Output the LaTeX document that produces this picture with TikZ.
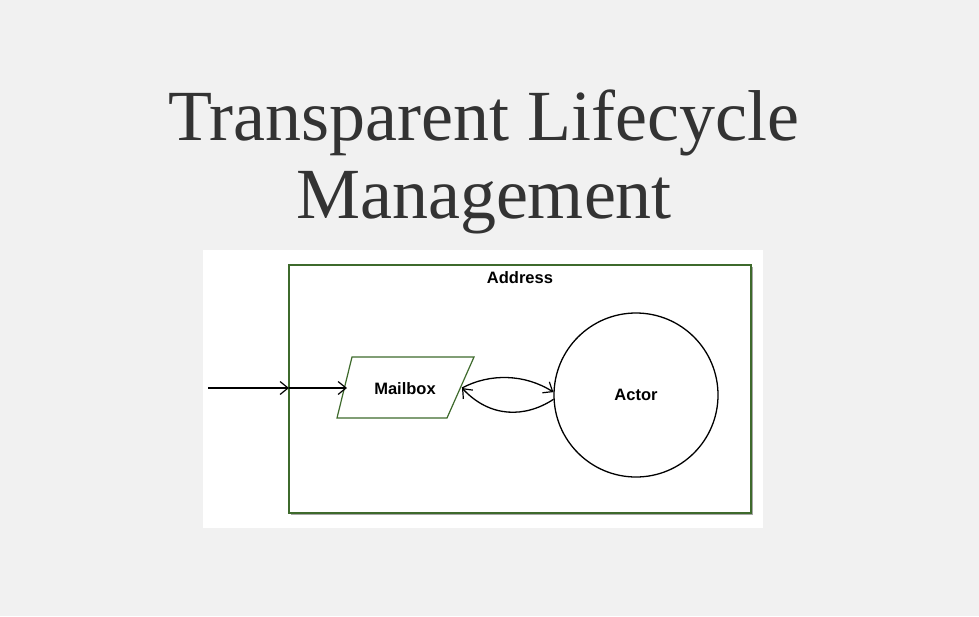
\documentclass[tikz,border=0pt]{standalone}
\usepackage{fontspec}
\setmainfont{Liberation Serif}
\newfontfamily\labelfont{Liberation Sans}
\usetikzlibrary{arrows.meta}
\definecolor{bg}{HTML}{F1F1F1}
\definecolor{boxgreen}{HTML}{3E6A2C}
\definecolor{titlegray}{HTML}{333333}
\tikzset{
  lbl/.style={font=\labelfont\bfseries\fontsize{16.5}{18}\selectfont, text=black, inner sep=0pt},
  conn/.style={line width=1.3pt, black, -{Straight Barb[length=8pt,width=13pt,line width=1.2pt]}},
}
\begin{document}
\begin{tikzpicture}[x=1pt,y=-1pt]
\useasboundingbox (0,0) rectangle (979,616);
\fill[bg] (0,0) rectangle (979,616);
% title
\node[font=\fontsize{72}{78}\selectfont, text=titlegray, anchor=base, inner sep=0pt] (t1) at (484,140) {Transparent Lifecycle};
\node[font=\fontsize{72}{78}\selectfont, text=titlegray, anchor=base, inner sep=0pt] (t2) at (484,218) {Management};
% white panel
\fill[white] (203,250) rectangle (763,528);
% address box with shadow
\fill[black!35] (291,267) rectangle (753,515);
\node[draw=boxgreen, line width=1.4pt, fill=white, minimum width=462pt, minimum height=248pt, inner sep=0pt] (address) at (520,389) {};
\node[lbl] (addrlabel) at (520,278) {Address};
% mailbox
\draw[boxgreen, line width=1.2pt, fill=white] (352,357) -- (474,357) -- (447,418) -- (337,418) -- cycle;
\node[lbl] (mailbox) at (405,389) {Mailbox};
\coordinate (mbL) at (347,388);
\coordinate (mbR) at (462,388);
% actor
\node[draw=black, line width=1.3pt, circle, minimum size=164pt, inner sep=0pt] (actor) at (636,395) {};
\node[lbl] (actorlabel) at (636,395) {Actor};
% connectors
\coordinate (src) at (208,388);
\coordinate (edge) at (289,388);
\draw[conn] (src) -- (edge);
\draw[conn] (edge) -- (mbL);
\draw[conn] (mbR) .. controls (490,373) and (525,374) .. (actor.178);
\draw[conn] (actor.183) .. controls (525,418) and (490,418) .. (mbR);
\end{tikzpicture}
\end{document}
